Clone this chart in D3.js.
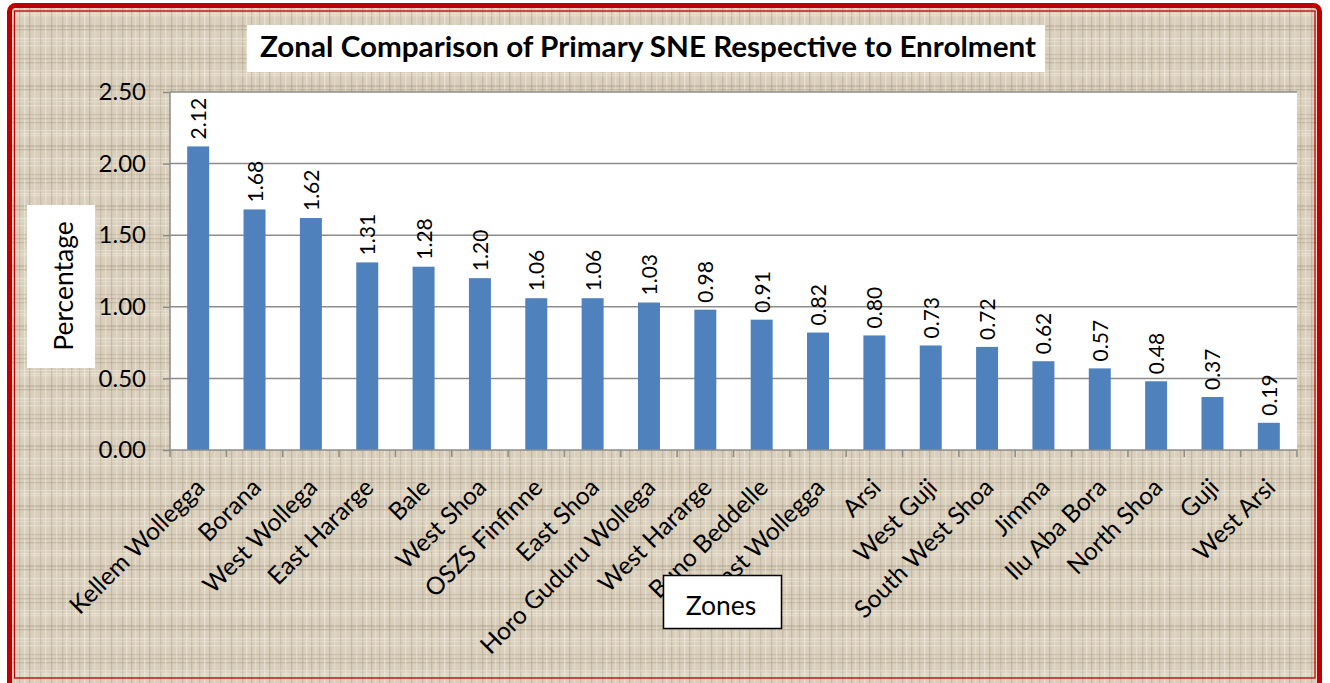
<!DOCTYPE html>
<html>
<head>
<meta charset="utf-8">
<script src="https://cdn.jsdelivr.net/npm/d3@7"></script>
<style>
  html, body { margin: 0; padding: 0; background: #fff; }
  svg { display: block; font-family: Lato, "Open Sans", sans-serif; }
</style>
</head>
<body>
<script>
"use strict";

// données
var zones = ["Kellem Wollegga", "Borana", "West Wollega", "East Hararge", "Bale", "West Shoa",
  "OSZS Finfinne", "East Shoa", "Horo Guduru Wollega", "West Hararge", "Buno Beddelle",
  "East Wollegga", "Arsi", "West Guji", "South West Shoa", "Jimma", "Ilu Aba Bora",
  "North Shoa", "Guji", "West Arsi"];
var pourcentages = [2.12, 1.68, 1.62, 1.31, 1.28, 1.20, 1.06, 1.06, 1.03, 0.98, 0.91,
  0.82, 0.80, 0.73, 0.72, 0.62, 0.57, 0.48, 0.37, 0.19];
var graduations = [0, 0.5, 1, 1.5, 2, 2.5];
var titre = "Zonal Comparison of Primary SNE Respective to Enrolment";

var W = 1330, H = 683,
  plot = { left: 170, top: 92, right: 1297, bottom: 450 };

var svg = d3.select("body").append("svg")
  .attr("width", W).attr("height", H);

// texture toile de jute
var defs = svg.append("defs");
var pat = defs.append("pattern")
  .attr("id", "jute").attr("patternUnits", "userSpaceOnUse")
  .attr("width", 60).attr("height", 60);
pat.append("rect").attr("width", 60).attr("height", 60).attr("fill", "#d9cfbc");
var traits = [[2, 0.45, "#a99e88"], [6, 0.55, "#f3ede1"], [11, 0.35, "#9d927c"], [15, 0.5, "#efe8da"],
  [19, 0.4, "#b0a58f"], [24, 0.55, "#f4eee3"], [29, 0.45, "#a39882"], [34, 0.5, "#ebe4d6"],
  [40, 0.35, "#a89d87"], [45, 0.5, "#f1ebde"], [51, 0.4, "#a0957f"], [56, 0.5, "#ece5d7"]];
traits.forEach(function (t, i) {
  pat.append("rect").attr("x", t[0]).attr("y", 0).attr("width", 1.3).attr("height", 60)
    .attr("fill", t[2]).attr("opacity", t[1]);
  pat.append("rect").attr("x", 0).attr("y", (t[0] + 7 * (i % 3)) % 60).attr("width", 60).attr("height", 1.3)
    .attr("fill", t[2]).attr("opacity", t[1]);
});

svg.append("rect").attr("width", W).attr("height", H).attr("fill", "#fff");
svg.append("rect").attr("x", 9.5).attr("y", 5.5).attr("width", 1310).attr("height", 690)
  .attr("rx", 6).attr("fill", "url(#jute)")
  .attr("stroke", "#c00000").attr("stroke-width", 5);
svg.append("rect").attr("x", 14.5).attr("y", 11).attr("width", 1300.5).attr("height", 667)
  .attr("fill", "none").attr("stroke", "#c00000").attr("stroke-width", 1.3);

// zone de tracé
svg.append("rect").attr("x", plot.left).attr("y", plot.top)
  .attr("width", plot.right - plot.left).attr("height", plot.bottom - plot.top)
  .attr("fill", "#fff");

var x = d3.scaleBand().domain(zones).range([plot.left, plot.right]).paddingInner(0.61).paddingOuter(0.305);
var y = d3.scaleLinear().domain([0, 2.5]).range([plot.bottom, plot.top]);

// grilles
svg.append("g").selectAll("line").data(graduations.slice(1)).enter().append("line")
  .attr("x1", plot.left).attr("x2", plot.right)
  .attr("y1", d => y(d)).attr("y2", d => y(d))
  .attr("stroke", "#8c8c8c").attr("stroke-width", 1.5);

// barres
svg.append("g").selectAll("rect").data(pourcentages).enter().append("rect")
  .attr("x", (d, i) => x(zones[i]))
  .attr("y", d => y(d))
  .attr("width", x.bandwidth())
  .attr("height", d => y(0) - y(d))
  .attr("fill", "#4f81bd");

// étiquettes de valeurs
svg.append("g").selectAll("text").data(pourcentages).enter().append("text")
  .attr("transform", (d, i) => "translate(" + (x(zones[i]) + x.bandwidth() / 2 + 8) + "," + (y(d) - 7) + ") rotate(-90)")
  .attr("font-size", 21).attr("fill", "#000")
  .text(d => d.toFixed(2));

// axe Y
var axeY = svg.append("g").attr("transform", "translate(" + plot.left + ",0)")
  .call(d3.axisLeft(y).tickValues(graduations).tickSize(7).tickPadding(17).tickFormat(d3.format(".2f")));
axeY.select(".domain").attr("stroke", "#8c8c8c").attr("stroke-width", 1.5).attr("d", "M0," + plot.top + "V" + plot.bottom);
axeY.selectAll(".tick line").attr("stroke", "#8c8c8c").attr("stroke-width", 1.5);
axeY.selectAll(".tick text").attr("font-size", 24).attr("font-family", "Lato, sans-serif").attr("fill", "#000");

// axe X
var bords = zones.map(z => x(z) - x.step() * x.paddingInner() / 2).concat([plot.right]);
var gX = svg.append("g");
gX.append("line").attr("x1", plot.left).attr("x2", plot.right)
  .attr("y1", plot.bottom).attr("y2", plot.bottom)
  .attr("stroke", "#8c8c8c").attr("stroke-width", 1.5);
gX.selectAll("line.tick").data(bords).enter().append("line").attr("class", "tick")
  .attr("x1", d => d).attr("x2", d => d)
  .attr("y1", plot.bottom).attr("y2", plot.bottom + 7)
  .attr("stroke", "#8c8c8c").attr("stroke-width", 1.5);
gX.selectAll("text").data(zones).enter().append("text")
  .attr("transform", d => "translate(" + (x(d) + x.bandwidth() / 2 + 8) + "," + (plot.bottom + 39) + ") rotate(-45)")
  .attr("text-anchor", "end").attr("font-size", 24.5).attr("fill", "#000")
  .text(d => d);

// titre
svg.append("rect").attr("x", 247).attr("y", 25).attr("width", 798).attr("height", 47).attr("fill", "#fff");
svg.append("text").attr("x", 260).attr("y", 57)
  .attr("font-size", 29).attr("font-weight", "bold").attr("fill", "#000")
  .attr("textLength", 776).attr("lengthAdjust", "spacingAndGlyphs")
  .text(titre);

// titre de l'axe Y
svg.append("rect").attr("x", 27).attr("y", 205).attr("width", 68).attr("height", 163).attr("fill", "#fff");
svg.append("text").attr("transform", "translate(73,286) rotate(-90)")
  .attr("text-anchor", "middle").attr("font-size", 26.5).attr("fill", "#000")
  .text("Percentage");

// titre de l'axe X
svg.append("rect").attr("x", 663.5).attr("y", 575.5).attr("width", 118).attr("height", 53)
  .attr("fill", "#fff").attr("stroke", "#000").attr("stroke-width", 1.5);
svg.append("text").attr("x", 721).attr("y", 615)
  .attr("text-anchor", "middle").attr("font-size", 26.5).attr("fill", "#000")
  .text("Zones");
</script>
</body>
</html>
